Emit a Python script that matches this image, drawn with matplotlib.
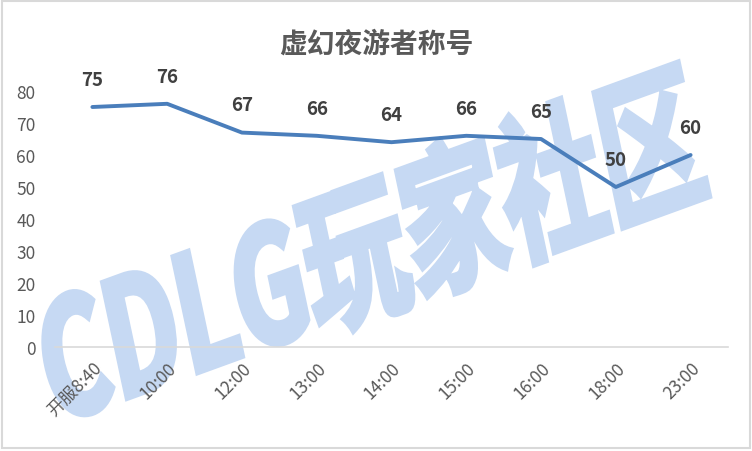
import matplotlib
matplotlib.use("Agg")
import matplotlib.pyplot as plt
from matplotlib.textpath import TextPath
from matplotlib.patches import PathPatch, Rectangle
from matplotlib.font_manager import FontProperties
from matplotlib.transforms import Affine2D

plt.rcParams['font.family'] = ['Noto Sans CJK SC', 'DejaVu Sans']

# data
times = ['开服8:40', '10:00', '12:00', '13:00', '14:00', '15:00', '16:00', '18:00', '23:00']
counts = [75, 76, 67, 66, 64, 66, 65, 50, 60]
title = '虚幻夜游者称号'
watermark = 'CDLG玩家社区'

W, H = 752, 452
fig = plt.figure(figsize=(W / 100, H / 100), dpi=100, facecolor='white')

# watermark layer in pixel coords (y down)
bg = fig.add_axes([0, 0, 1, 1], zorder=0)
bg.set_xlim(0, W)
bg.set_ylim(H, 0)
bg.set_axis_off()
tp = TextPath((0, 0), watermark, size=100,
              prop=FontProperties(family='Noto Sans CJK SC', weight='heavy'))
ext = tp.get_extents()
L, Ht = 690, 150
tr = (Affine2D().translate(-ext.x0, -ext.y0)
      .scale(L / ext.width, Ht / ext.height)
      .skew_deg(8, 0)
      .scale(1, -1)
      .rotate_deg(-20)
      .translate(62, 438))
bg.add_patch(PathPatch(tr.transform_path(tp), facecolor='#c6d9f3',
                       edgecolor='#c6d9f3', linewidth=4, joinstyle='miter',
                       zorder=0))
bg.add_patch(Rectangle((2, 2), W - 4, H - 5, fill=False,
                       edgecolor='#d9d9d9', linewidth=1.5))

# main chart
ax = fig.add_axes([55 / W, 1 - 348 / H, (728 - 55) / W, (348 - 92) / H], zorder=1)
ax.patch.set_alpha(0)
x = range(len(times))
ax.plot(x, counts, color='#4a7ebb', linewidth=2.8, solid_capstyle='round',
        solid_joinstyle='round', clip_on=False)
for xi, v in zip(x, counts):
    ax.annotate(str(v), (xi, v), xytext=(0, 20), textcoords='offset points',
                ha='center', va='center', fontsize=13.5, fontweight='bold',
                color='#404040')

ax.set_xlim(-0.5, len(times) - 0.5)
ax.set_ylim(0, 80)
ax.set_yticks(range(0, 81, 10))
ax.set_xticks(list(x))
ax.set_xticklabels(times, rotation=45, ha='right', va='top',
                   rotation_mode='anchor')
ax.tick_params(axis='both', length=0, labelsize=12.5, labelcolor='#595959')
ax.tick_params(axis='y', pad=14)
ax.tick_params(axis='x', pad=8)
for s in ['top', 'right', 'left']:
    ax.spines[s].set_visible(False)
ax.spines['bottom'].set_color('#d9d9d9')
ax.spines['bottom'].set_linewidth(1.2)

fig.text(0.5, 1 - 45 / H, title, ha='center', va='center', fontsize=20,
         fontweight='bold', color='#595959')

fig.savefig('out.png', dpi=100, facecolor='white')
